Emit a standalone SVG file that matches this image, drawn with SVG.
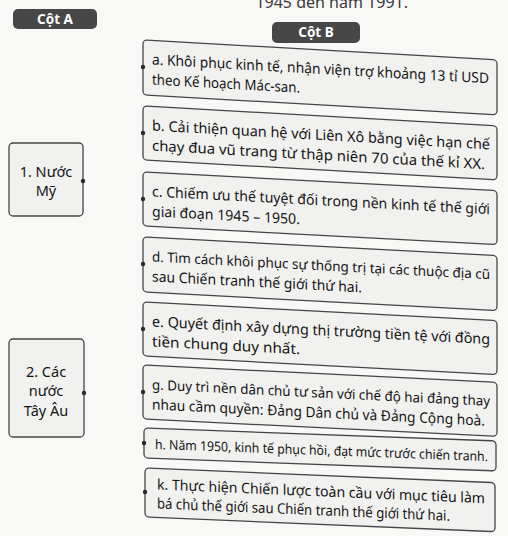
<svg xmlns="http://www.w3.org/2000/svg" width="508" height="536" viewBox="0 0 508 536">
<style>
.bg{fill:#f8f8f7}
.box{fill:#f1f1ef;stroke:#454545;stroke-width:1.3}
.t{font-family:"Noto Sans","Liberation Sans",sans-serif;font-size:14.5px;fill:#151515}
.tn{font-size:13.8px}
.th{font-size:13.2px}
.tc{font-family:"Noto Sans","Liberation Sans",sans-serif;font-size:14.5px;fill:#151515;text-anchor:middle}
.pill{fill:#474747}
.pt{font-family:"Noto Sans","Liberation Sans",sans-serif;font-size:13.5px;font-weight:bold;fill:#ffffff;text-anchor:middle}
.dot{fill:#2a2a2a}
</style>
<rect class="bg" x="0" y="0" width="508" height="536"/>
<text x="408" y="8" font-family="Noto Sans, Liberation Sans, sans-serif" font-size="16" fill="#3a3a3a" text-anchor="end">1945 đến năm 1991.</text>

<g id="header-a"><rect class="pill" x="13" y="9" width="84" height="20" rx="5"/><text class="pt" x="55" y="23.5">Cột A</text></g>
<g id="header-b"><rect class="pill" x="272" y="22" width="88" height="21" rx="5"/><text class="pt" x="316" y="37">Cột B</text></g>

<g id="node-1"><rect class="box" x="9" y="143" width="74" height="73" rx="4"/><text class="tc" x="46" y="177">1. Nước</text><text class="tc" x="46" y="196">Mỹ</text></g>
<g id="node-2"><rect class="box" x="9" y="339" width="75" height="98" rx="4"/><text class="tc" x="46" y="377">2. Các</text><text class="tc" x="46" y="396">nước</text><text class="tc" x="46" y="416">Tây Âu</text></g>

<g id="node-a" transform="translate(143,40) skewY(3.2)"><rect class="box" x="0" y="0" width="354" height="55" rx="4"/><text class="t" x="9" y="24" textLength="337" lengthAdjust="spacingAndGlyphs">a. Khôi phục kinh tế, nhận viện trợ khoảng 13 tỉ USD</text><text class="t" x="9" y="44" textLength="148" lengthAdjust="spacingAndGlyphs">theo Kế hoạch Mác-san.</text></g>
<g id="node-b" transform="translate(143,106) skewY(3.2)"><rect class="box" x="0" y="0" width="354" height="54" rx="4"/><text class="t" x="9" y="24" textLength="338" lengthAdjust="spacingAndGlyphs">b. Cải thiện quan hệ với Liên Xô bằng việc hạn chế</text><text class="t" x="9" y="44" textLength="333" lengthAdjust="spacingAndGlyphs">chạy đua vũ trang từ thập niên 70 của thế kỉ XX.</text></g>
<g id="node-c" transform="translate(143,172) skewY(3.0)"><rect class="box" x="0" y="0" width="354" height="54" rx="4"/><text class="t" x="9" y="24" textLength="338" lengthAdjust="spacingAndGlyphs">c. Chiếm ưu thế tuyệt đối trong nền kinh tế thế giới</text><text class="t" x="9" y="44" textLength="148" lengthAdjust="spacingAndGlyphs">giai đoạn 1945 – 1950.</text></g>
<g id="node-d" transform="translate(143,237) skewY(3.0)"><rect class="box" x="0" y="0" width="354" height="55" rx="4"/><text class="t tn" x="9" y="24" textLength="338" lengthAdjust="spacingAndGlyphs">d. Tìm cách khôi phục sự thống trị tại các thuộc địa cũ</text><text class="t" x="9" y="44" textLength="210" lengthAdjust="spacingAndGlyphs">sau Chiến tranh thế giới thứ hai.</text></g>
<g id="node-e" transform="translate(143,302) skewY(3.0)"><rect class="box" x="0" y="0" width="354" height="54" rx="4"/><text class="t" x="9" y="24" textLength="338" lengthAdjust="spacingAndGlyphs">e. Quyết định xây dựng thị trường tiền tệ với đồng</text><text class="t" x="9" y="44" textLength="148" lengthAdjust="spacingAndGlyphs">tiền chung duy nhất.</text></g>
<g id="node-g" transform="translate(143,365) skewY(2.8)"><rect class="box" x="0" y="0" width="354" height="54" rx="4"/><text class="t tn" x="9" y="24" textLength="338" lengthAdjust="spacingAndGlyphs">g. Duy trì nền dân chủ tư sản với chế độ hai đảng thay</text><text class="t" x="9" y="44" textLength="333" lengthAdjust="spacingAndGlyphs">nhau cầm quyền: Đảng Dân chủ và Đảng Cộng hoà.</text></g>
<g id="node-h" transform="translate(144,428) skewY(2.1)"><rect class="box" x="0" y="0" width="352" height="30" rx="4"/><text class="t th" x="11" y="20.5" textLength="333" lengthAdjust="spacingAndGlyphs">h. Năm 1950, kinh tế phục hồi, đạt mức trước chiến tranh.</text></g>
<g id="node-k" transform="translate(145,468) skewY(2.4)"><rect class="box" x="0" y="0" width="350" height="49" rx="4"/><text class="t" x="12" y="21" textLength="328" lengthAdjust="spacingAndGlyphs">k. Thực hiện Chiến lược toàn cầu với mục tiêu làm</text><text class="t" x="12" y="40" textLength="293" lengthAdjust="spacingAndGlyphs">bá chủ thế giới sau Chiến tranh thế giới thứ hai.</text></g>

<g id="connectors">
<circle class="dot" cx="83" cy="181" r="2.2"/>
<circle class="dot" cx="84" cy="393" r="2.2"/>
<circle class="dot" cx="143" cy="67" r="2.2"/>
<circle class="dot" cx="143" cy="133" r="2.2"/>
<circle class="dot" cx="143" cy="199" r="2.2"/>
<circle class="dot" cx="143" cy="264" r="2.2"/>
<circle class="dot" cx="143" cy="329" r="2.2"/>
<circle class="dot" cx="143" cy="392" r="2.2"/>
<circle class="dot" cx="144" cy="443" r="2.2"/>
<circle class="dot" cx="145" cy="492" r="2.2"/>
</g>
</svg>
